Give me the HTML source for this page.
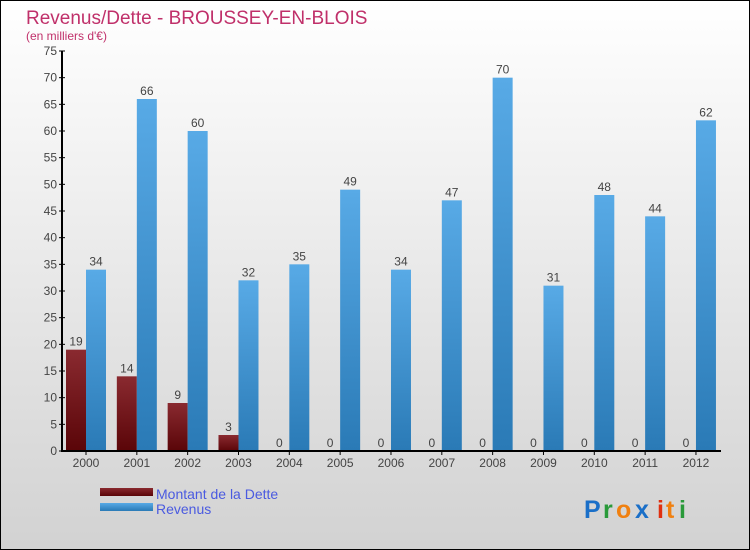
<!DOCTYPE html>
<html><head><meta charset="utf-8"><style>
body{margin:0}
#c{width:748px;height:548px;border:1px solid #000;position:relative;background:linear-gradient(#ffffff,#d2d2d2);font-family:"Liberation Sans",sans-serif;overflow:hidden}
</style></head><body>
<div id="c">
<svg width="748" height="548" id="svg" font-family="Liberation Sans, sans-serif">
<defs>
<linearGradient id="gr" x1="0" y1="0" x2="0" y2="1"><stop offset="0" stop-color="#8a2a30"/><stop offset="1" stop-color="#5a0508"/></linearGradient>
<linearGradient id="gb" x1="0" y1="0" x2="0" y2="1"><stop offset="0" stop-color="#58aae6"/><stop offset="1" stop-color="#2a7ab6"/></linearGradient>
</defs>
<text x="25" y="23" font-size="19" fill="#c0306a">Revenus/Dette - BROUSSEY-EN-BLOIS</text>
<text x="25" y="39" font-size="12" fill="#c0306a">(en milliers d'€)</text>
<g id="plot"></g>
<rect x="99" y="487" width="53" height="8" fill="url(#gr)"/>
<rect x="99" y="502" width="53" height="8" fill="url(#gb)"/>
<text x="155" y="498" font-size="14" fill="#4a5ae0">Montant de la Dette</text>
<text x="155" y="513" font-size="14" fill="#4a5ae0">Revenus</text>
<g font-size="25" font-weight="bold">
<text x="583" y="517" fill="#1a6fc8">P</text><text x="602" y="517" fill="#2a9a3a">r</text><text x="615" y="517" fill="#f08010">o</text><text x="634" y="517" fill="#1a6fc8">x</text><text x="656" y="517" fill="#e03010">i</text><text x="665" y="517" fill="#f08010">t</text><text x="678" y="517" fill="#2a9a3a">i</text>
</g>
</svg>
</div>
<script>
const years=["2000","2001","2002","2003","2004","2005","2006","2007","2008","2009","2010","2011","2012"];
const dette=[19,14,9,3,0,0,0,0,0,0,0,0,0];
const revenus=[34,66,60,32,35,49,34,47,70,31,48,44,62];
const yTicks=[0,5,10,15,20,25,30,35,40,45,50,55,60,65,70,75];
const NS="http://www.w3.org/2000/svg";
const g=document.getElementById('plot');
const y=v=>450-v*400/75;
const x=i=>85+i*50.83;
function mk(t,a){const e=document.createElementNS(NS,t);for(const k in a)e.setAttribute(k,a[k]);g.appendChild(e);return e;}
yTicks.forEach(v=>{
 const l=mk('line',{x1:58,x2:64,y1:y(v),y2:y(v),stroke:'#000'});
 
 
 const t=mk('text',{x:56,y:y(v)+4,'text-anchor':'end','font-size':12,fill:'#444'});t.textContent=v;
 
 
});
years.forEach((yr,i)=>{
 const cx=x(i);
 const r=mk('rect',{x:cx-20,y:y(dette[i])-(dette[i]?0:1),width:20,height:Math.max(1,450-y(dette[i])),fill:'url(#gr)'});
 
 
 const b=mk('rect',{x:cx,y:y(revenus[i]),width:20,height:450-y(revenus[i]),fill:'url(#gb)'});
 
 
 const t1=mk('text',{x:cx-10,y:y(dette[i])-4,'text-anchor':'middle','font-size':12,fill:'#444'});t1.textContent=dette[i];
 
 
 const t2=mk('text',{x:cx+10,y:y(revenus[i])-4,'text-anchor':'middle','font-size':12,fill:'#444'});t2.textContent=revenus[i];
 
 
 const tk=mk('line',{x1:cx,x2:cx,y1:450,y2:454,stroke:'#000'});
 
 
 const xl=mk('text',{x:cx,y:466,'text-anchor':'middle','font-size':12,fill:'#444'});xl.textContent=yr;
 
 
});
const ya=mk('line',{x1:61,x2:61,y1:50,y2:450,stroke:'#000','stroke-width':2});


const xa=mk('line',{x1:60,x2:720,y1:450,y2:450,stroke:'#000','stroke-width':2});


</script>
</body></html>
